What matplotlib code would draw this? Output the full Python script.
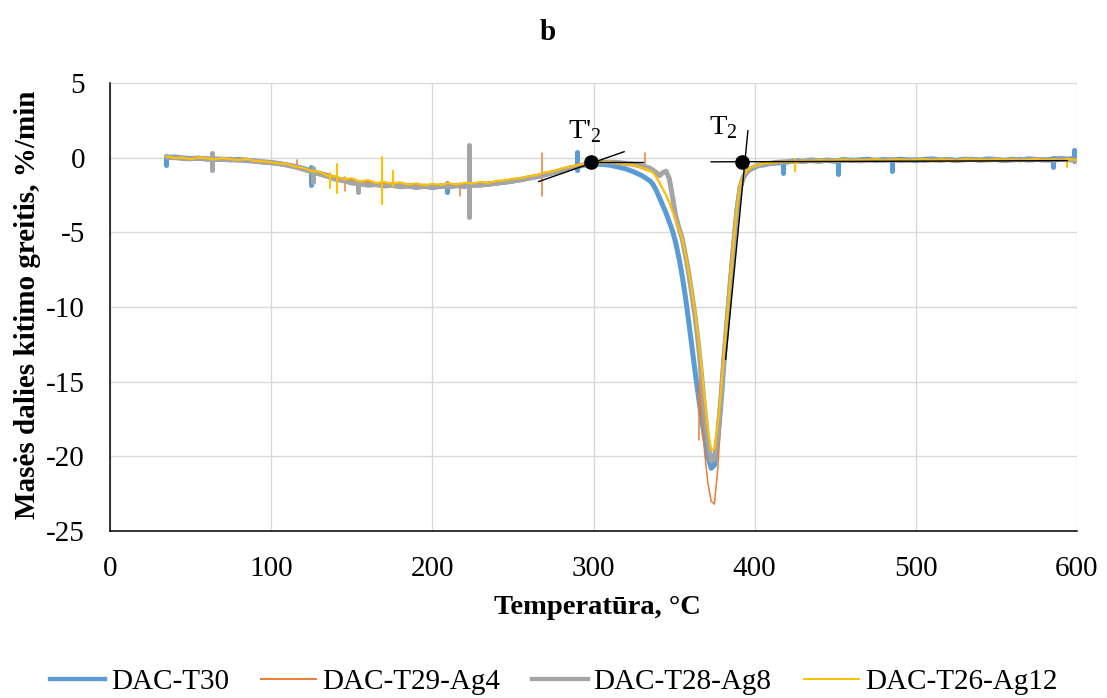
import numpy as np
import matplotlib
matplotlib.use("Agg")
import matplotlib.pyplot as plt
from matplotlib.lines import Line2D

plt.rcParams['font.family'] = ['Liberation Serif', 'DejaVu Serif']
plt.rcParams['mathtext.fontset'] = 'custom'
plt.rcParams['mathtext.rm'] = 'Liberation Serif'
plt.rcParams['axes.unicode_minus'] = False

# ---------------- data ----------------
# sample temperatures (°C): three segments
temp_a = np.arange(35, 336, 5)      # 35..335
temp_b = np.arange(337, 410, 2)     # 337..409
temp_c = np.arange(415, 601, 5)     # 415..600
temperature = np.concatenate([temp_a, temp_b, temp_c])

series_names = ["DAC-T30", "DAC-T29-Ag4", "DAC-T28-Ag8", "DAC-T26-Ag12"]

t30_a = [0.0, 0.05, -0.02, -0.05, -0.05, -0.08, -0.12, -0.1, -0.15, -0.12,
         -0.2, -0.22, -0.3, -0.32, -0.4, -0.48, -0.6, -0.72, -0.9, -1.05,
         -1.2, -1.4, -1.5, -1.62, -1.7, -1.75, -1.8, -1.85, -1.82, -1.9,
         -1.88, -1.95, -1.9, -2.0, -1.92, -1.95, -1.85, -1.92, -1.85, -1.8,
         -1.78, -1.7, -1.65, -1.55, -1.48, -1.35, -1.28, -1.15, -1.0, -0.88,
         -0.72, -0.6, -0.5, -0.42, -0.45, -0.5, -0.62, -0.75, -0.95, -1.2, -1.55]
t30_b = [-1.8, -2.2, -2.7, -3.2, -3.7, -4.3, -4.9, -5.7, -6.7, -7.9,
         -9.3, -10.9, -12.6, -14.3, -15.9, -17.4, -18.8, -20.0, -20.8, -20.6,
         -19.0, -16.6, -13.6, -11.0, -8.4, -5.9, -3.6, -2.0, -1.3, -1.0,
         -0.8, -0.7, -0.6, -0.5, -0.5, -0.45, -0.4]
t30_c = [-0.35, -0.3, -0.2, -0.25, -0.15, -0.22, -0.18, -0.25, -0.12, -0.2,
         -0.15, -0.1, -0.2, -0.12, -0.18, -0.1, -0.15, -0.2, -0.12, -0.08,
         -0.15, -0.12, -0.18, -0.1, -0.12, -0.15, -0.08, -0.12, -0.18, -0.1,
         -0.15, -0.08, -0.12, -0.15, -0.1, -0.05, -0.1, 0.0]

ag4_a = [0.05, 0.0, -0.05, -0.05, 0.0, -0.08, -0.1, -0.05, -0.1, -0.15,
         -0.15, -0.2, -0.25, -0.3, -0.35, -0.45, -0.55, -0.7, -0.85, -1.0,
         -1.15, -1.3, -1.45, -1.5, -1.6, -1.62, -1.7, -1.7, -1.75, -1.78,
         -1.8, -1.8, -1.85, -1.82, -1.8, -1.78, -1.8, -1.75, -1.7, -1.7,
         -1.65, -1.6, -1.5, -1.45, -1.35, -1.25, -1.15, -1.0, -0.9, -0.75,
         -0.6, -0.5, -0.4, -0.35, -0.3, -0.32, -0.38, -0.45, -0.55, -0.72, -0.9]
ag4_b = [-1.0, -1.3, -1.7, -2.1, -2.5, -3.0, -3.5, -4.1, -4.8, -5.5,
         -6.5, -7.7, -9.0, -10.6, -13.2, -17.0, -19.8, -21.8, -23.0, -23.2,
         -21.0, -17.5, -14.0, -11.0, -8.3, -5.8, -3.4, -1.8, -1.1, -0.8,
         -0.65, -0.55, -0.5, -0.45, -0.4, -0.35, -0.35]
ag4_c = [-0.3, -0.25, -0.22, -0.2, -0.18, -0.2, -0.15, -0.15, -0.18, -0.12,
         -0.15, -0.15, -0.12, -0.18, -0.12, -0.15, -0.12, -0.15, -0.1, -0.15,
         -0.12, -0.12, -0.15, -0.1, -0.12, -0.15, -0.1, -0.12, -0.12, -0.1,
         -0.15, -0.1, -0.12, -0.1, -0.12, -0.15, -0.1, -0.12]

ag8_a = [0.05, 0.0, -0.05, -0.08, -0.02, -0.1, -0.08, -0.12, -0.1, -0.18,
         -0.15, -0.25, -0.28, -0.35, -0.4, -0.5, -0.62, -0.78, -0.95, -1.1,
         -1.25, -1.45, -1.55, -1.7, -1.75, -1.85, -1.8, -1.9, -1.85, -1.95,
         -1.9, -2.0, -1.92, -1.98, -1.9, -1.95, -1.88, -1.9, -1.82, -1.85,
         -1.75, -1.72, -1.62, -1.58, -1.45, -1.38, -1.25, -1.12, -1.0, -0.85,
         -0.7, -0.58, -0.45, -0.38, -0.3, -0.3, -0.32, -0.38, -0.45, -0.55, -0.7]
ag8_b = [-0.85, -1.0, -1.2, -1.0, -0.9, -1.4, -2.6, -3.9, -4.7, -5.4,
         -6.5, -7.7, -9.1, -10.6, -12.4, -14.5, -16.9, -19.0, -20.3, -20.2,
         -18.6, -16.2, -13.3, -10.7, -8.2, -5.8, -3.5, -2.0, -1.3, -1.0,
         -0.8, -0.65, -0.55, -0.5, -0.45, -0.4, -0.4]
ag8_c = [-0.3, -0.28, -0.22, -0.25, -0.2, -0.25, -0.15, -0.22, -0.2, -0.15,
         -0.22, -0.18, -0.15, -0.2, -0.12, -0.2, -0.18, -0.12, -0.2, -0.15,
         -0.18, -0.12, -0.2, -0.15, -0.1, -0.18, -0.15, -0.12, -0.2, -0.15,
         -0.1, -0.18, -0.12, -0.15, -0.2, -0.1, -0.15, -0.2]

ag12_a = [0.08, -0.02, 0.0, -0.1, 0.02, -0.05, -0.12, -0.02, -0.12, -0.15,
          -0.1, -0.22, -0.25, -0.3, -0.38, -0.42, -0.6, -0.68, -0.9, -0.95,
          -1.2, -1.25, -1.45, -1.38, -1.6, -1.5, -1.7, -1.62, -1.75, -1.65,
          -1.8, -1.72, -1.85, -1.75, -1.82, -1.7, -1.8, -1.68, -1.72, -1.62,
          -1.68, -1.55, -1.52, -1.4, -1.38, -1.22, -1.18, -0.98, -0.92, -0.72,
          -0.62, -0.48, -0.42, -0.33, -0.32, -0.28, -0.38, -0.42, -0.5, -0.68, -0.88]
ag12_b = [-1.0, -1.3, -1.7, -2.1, -2.5, -3.0, -3.6, -4.2, -4.8, -5.4,
          -6.4, -7.6, -8.9, -10.3, -12.0, -14.0, -16.2, -18.2, -19.6, -19.5,
          -18.0, -15.8, -13.0, -10.5, -8.0, -5.6, -3.3, -1.8, -1.2, -0.9,
          -0.7, -0.6, -0.5, -0.45, -0.4, -0.35, -0.35]
ag12_c = [-0.3, -0.25, -0.3, -0.2, -0.22, -0.15, -0.2, -0.18, -0.12, -0.2,
          -0.15, -0.18, -0.1, -0.2, -0.15, -0.12, -0.18, -0.15, -0.1, -0.18,
          -0.12, -0.15, -0.2, -0.1, -0.15, -0.12, -0.18, -0.1, -0.15, -0.12,
          -0.2, -0.12, -0.1, -0.15, -0.12, -0.18, -0.1, -0.15]

# isolated noise spikes: temperature, lower value, upper value
t30_spike_t = [35, 124.7, 209, 290, 417.5, 452, 485, 585, 598]
t30_spike_lo = [-0.5, -1.85, -2.3, -0.8, -1.0, -1.1, -0.9, -0.6, -0.2]
t30_spike_hi = [0.1, -0.6, -1.7, 0.4, -0.3, -0.2, -0.2, 0.0, 0.5]

ag4_spike_t = [116, 146, 217, 268, 332, 365.5]
ag4_spike_lo = [-0.6, -2.25, -2.6, -2.6, -0.8, -18.9]
ag4_spike_hi = [-0.13, -1.3, -1.7, 0.3, 0.3, -15.0]

ag8_spike_t = [63, 126, 154, 222.7]
ag8_spike_lo = [-0.8, -1.6, -2.3, -4.0]
ag8_spike_hi = [0.3, -0.7, -1.6, 0.87]

ag12_spike_t = [136.5, 140.6, 168.7, 175.6, 425, 594]
ag12_spike_lo = [-2.0, -2.35, -3.1, -1.9, -0.9, -0.6]
ag12_spike_hi = [-1.0, -0.45, 0.07, -0.9, -0.1, -0.1]

# onset construction (tangent lines and onset points)
onset_labels = ["T'", "T"]
onset_t = [298.4, 392.0]
onset_y = [-0.28, -0.28]
onset_label_t = [284.0, 371.6]
onset_label_y = [1.3, 1.55]
tangent1_t = [266.0, 319.0]
tangent1_y = [-1.6, 0.4]
base1_t = [298.4, 331.0]
base1_y = [-0.3, -0.3]
tangent2_t = [395.8, 382.0]
tangent2_y = [1.8, -13.5]
base2_t = [373.0, 594.0]
base2_y = [-0.28, -0.2]

x_ticks = [0, 100, 200, 300, 400, 500, 600]
y_ticks = [5, 0, -5, -10, -15, -20, -25]

# ---------------- figure ----------------
W, H = 1107, 698
fig = plt.figure(figsize=(W / 100, H / 100), dpi=100)
ax = fig.add_axes([110 / W, 1 - 531 / H, (1077 - 110) / W, (531 - 83) / H])

colors = ["#5B9BD5", "#ED7D31", "#A5A5A5", "#FFC000"]
widths = [3.6, 1.1, 3.6, 1.5]
values = [t30_a + t30_b + t30_c, ag4_a + ag4_b + ag4_c,
          ag8_a + ag8_b + ag8_c, ag12_a + ag12_b + ag12_c]
spikes = [(t30_spike_t, t30_spike_lo, t30_spike_hi),
          (ag4_spike_t, ag4_spike_lo, ag4_spike_hi),
          (ag8_spike_t, ag8_spike_lo, ag8_spike_hi),
          (ag12_spike_t, ag12_spike_lo, ag12_spike_hi)]

for i, (vals, col, lw, sp) in enumerate(zip(values, colors, widths, spikes)):
    z = 3 + i
    ax.plot(temperature, vals, color=col, lw=lw, zorder=z,
            solid_joinstyle='round', solid_capstyle='round')
    ax.vlines(sp[0], sp[1], sp[2], colors=col, lw=lw, zorder=z,
              capstyle='round')

# onset construction
ax.plot(tangent1_t, tangent1_y, color='black', lw=1.0, zorder=10)
ax.plot(base1_t, base1_y, color='black', lw=1.0, zorder=10)
ax.plot(tangent2_t, tangent2_y, color='black', lw=1.0, zorder=10)
ax.plot(base2_t, base2_y, color='black', lw=1.0, zorder=10)
ax.plot(onset_t, onset_y, 'o', color='black', ms=9.5, zorder=11)
for lab, tx, ty in zip(onset_labels, onset_label_t, onset_label_y):
    ax.text(tx, ty, lab + r"$_{\mathregular{2}}$", fontsize=20.5,
            ha='left', va='baseline', zorder=12)

ax.set_xlim(0, 600)
ax.set_ylim(-25, 5)
ax.set_xticks(x_ticks)
ax.set_yticks(y_ticks)
ax.tick_params(axis='both', length=0, labelsize=21, pad=18)
ax.grid(True, color='#D9D9D9', lw=1.0, zorder=0)
ax.set_axisbelow(True)
for s in ['top', 'right']:
    ax.spines[s].set_visible(False)
for s in ['left', 'bottom']:
    ax.spines[s].set_color('black')
    ax.spines[s].set_linewidth(1.1)
    ax.spines[s].set_zorder(2)

fig.text(597 / W, 1 - 608 / H, "Temperatūra, °C", fontsize=20.5,
         fontweight='bold', ha='center', va='center')
fig.text(28 / W, 1 - 305 / H, "Masės dalies kitimo greitis, %/min",
         fontsize=21, fontweight='bold', ha='center', va='center',
         rotation=90)
fig.text(548 / W, 1 - 32 / H, "b", fontsize=21, fontweight='bold',
         ha='center', va='center')

handles = [Line2D([], [], color=c, lw=w) for c, w in
           zip(colors, [3.1, 1.4, 3.1, 1.4])]
fig.legend(handles, series_names, loc='center',
           bbox_to_anchor=(0.5, 1 - 682 / H), ncol=4, frameon=False,
           fontsize=21, handlelength=1.9, handletextpad=0.2,
           columnspacing=1.1, borderaxespad=0)

fig.savefig("out.png", dpi=100)
